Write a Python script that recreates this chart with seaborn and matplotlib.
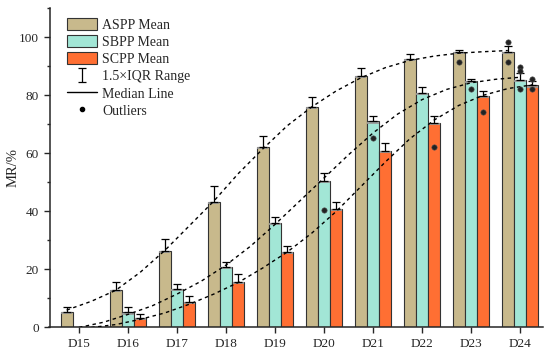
import numpy as np
import pandas as pd
import seaborn as sns
import matplotlib
matplotlib.use('Agg')
import matplotlib.pyplot as plt
from matplotlib.patches import Patch
from matplotlib.lines import Line2D

sns.set_style("ticks")
plt.rcParams['font.family'] = ['Liberation Serif', 'DejaVu Serif']

days = ['D15', 'D16', 'D17', 'D18', 'D19', 'D20', 'D21', 'D22', 'D23', 'D24']
series = ['ASPP', 'SBPP', 'SCPP']
colors = ['#C8B98C', '#A2E6D6', '#FF6F33']

# means
aspp_mean = [5.4, 12.8, 26.5, 43.2, 62.1, 76.1, 86.7, 92.5, 94.8, 95.0]
sbpp_mean = [0.0, 5.2, 13.2, 20.9, 35.9, 50.6, 71.0, 80.8, 84.8, 85.3]
scpp_mean = [0.0, 3.4, 8.7, 15.8, 25.9, 40.9, 60.9, 70.6, 79.8, 83.4]

aspp_median = [5.0, 12.4, 26.1, 42.8, 61.7, 75.7, 86.3, 92.1, 94.4, 94.6]
sbpp_median = [0.0, 4.8, 12.8, 20.5, 35.5, 50.2, 70.6, 80.4, 84.4, 84.9]
scpp_median = [0.0, 3.0, 8.3, 15.4, 25.5, 40.5, 60.5, 70.2, 79.4, 83.0]

# upper end of 1.5xIQR whisker
aspp_upper = [7.0, 15.8, 30.5, 48.9, 66.0, 79.4, 89.4, 94.2, 95.6, 97.0]
sbpp_upper = [0.0, 7.0, 14.9, 22.7, 38.2, 53.3, 73.0, 83.0, 85.6, 87.5]
scpp_upper = [0.0, 4.5, 10.9, 18.3, 28.1, 43.4, 63.7, 72.9, 81.3, 84.8]

# outliers: (day index, value)
aspp_out = [(8, 91.4), (9, 98.2), (9, 91.4)]
sbpp_out = [(5, 40.5), (6, 65.3), (8, 82.1), (9, 89.6), (9, 88.4), (9, 82.2)]
scpp_out = [(7, 62.1), (8, 74.2), (9, 85.7), (9, 82.1)]

# fitted curves read at half-day steps
curve_x = [0, 0.5, 1, 1.5, 2, 2.5, 3, 3.5, 4, 4.5, 5, 5.5, 6, 6.5, 7, 7.5, 8, 8.5, 9]
aspp_curve = [6.0, 9.0, 12.8, 19.0, 26.5, 35.0, 43.5, 53.0, 61.5, 69.5, 76.0, 81.5,
              86.0, 89.5, 92.0, 93.5, 94.5, 95.0, 95.4]
sbpp_curve = [0.0, 1.8, 4.5, 7.5, 11.5, 16.0, 21.5, 28.0, 35.5, 43.5, 51.5, 59.5,
              67.0, 73.5, 78.5, 82.0, 84.3, 85.5, 86.2]
scpp_curve = [0.0, 1.0, 2.8, 5.0, 8.0, 11.5, 15.5, 20.5, 26.0, 32.5, 40.0, 48.5,
              57.0, 65.0, 71.5, 76.5, 80.0, 82.3, 83.6]

means = [aspp_mean, sbpp_mean, scpp_mean]
medians = [aspp_median, sbpp_median, scpp_median]
uppers = [aspp_upper, sbpp_upper, scpp_upper]
outs = [aspp_out, sbpp_out, scpp_out]
curves = [aspp_curve, sbpp_curve, scpp_curve]

df = pd.DataFrame({
    'day': days * 3,
    'series': [s for s in series for _ in days],
    'mr': aspp_mean + sbpp_mean + scpp_mean,
})

fig = plt.figure(figsize=(5.5, 3.55), dpi=100)
ax = fig.add_axes([0.09, 0.0775, 0.898, 0.8995])

sns.barplot(data=df, x='day', y='mr', hue='series', hue_order=series,
            palette=colors, saturation=1, width=0.75, edgecolor='#333333',
            linewidth=0.8, errorbar=None, legend=False, ax=ax, zorder=2)

bar_groups = list(ax.containers)
for i, cont in enumerate(bar_groups):
    xs = np.array([b.get_x() + b.get_width() / 2 for b in cont])
    w = cont[0].get_width()
    m = np.array(means[i])
    up = np.array(uppers[i])
    keep = m > 0
    ax.errorbar(xs[keep], m[keep], yerr=[np.zeros(keep.sum()), (up - m)[keep]],
                fmt='none', ecolor='black', elinewidth=0.9, capsize=3, capthick=0.9, zorder=4)
    med = np.array(medians[i])
    ax.hlines(med[keep], xs[keep] - w / 2 + 0.01, xs[keep] + w / 2 - 0.01,
              color='#9a9a9a', lw=1.3, zorder=3)
    off = xs[0] - 0
    ax.plot(np.array(curve_x) + off, curves[i], color='black', lw=1.0,
            ls=(0, (2.5, 2.5)), zorder=5)
    if outs[i]:
        ox = [xs[d] for d, _ in outs[i]]
        oy = [v for _, v in outs[i]]
        ax.scatter(ox, oy, s=15, color='#222222', edgecolor='#555555', lw=0.4, zorder=6)

ax.set_xlim(-0.6, 9.475)
ax.set_ylim(0, 110)
ax.set_yticks([0, 20, 40, 60, 80, 100])
ax.set_yticks([10, 30, 50, 70, 90, 110], minor=True)
ax.set_xlabel('')
ax.set_ylabel('MR/%', fontsize=10.5)
ax.yaxis.set_label_coords(-0.06, 0.5)
ax.tick_params(axis='both', labelsize=9.5, direction='out', length=4, width=1)
ax.tick_params(axis='y', which='minor', length=2.5, width=1)
for s in ['left', 'bottom']:
    ax.spines[s].set_linewidth(1.1)
sns.despine(ax=ax)

eb = ax.errorbar([np.nan], [np.nan], yerr=[1], fmt='none', ecolor='black',
                 elinewidth=0.9, capsize=3, capthick=0.9)
handles = [Patch(facecolor=c, edgecolor='#333333', lw=0.8) for c in colors]
handles += [eb, Line2D([], [], color='black', lw=1),
            Line2D([], [], color='black', marker='o', ls='none', markersize=3)]
labels = ['ASPP Mean', 'SBPP Mean', 'SCPP Mean', '1.5×IQR Range', 'Median Line', 'Outliers']
ax.legend(handles, labels, loc='upper left', bbox_to_anchor=(0.015, 1.0), frameon=False,
          fontsize=10, handlelength=2.2, handleheight=0.95, labelspacing=0.25,
          handletextpad=0.35, borderaxespad=0.3)

fig.savefig('out.png', dpi=100)
plt.close(fig)
